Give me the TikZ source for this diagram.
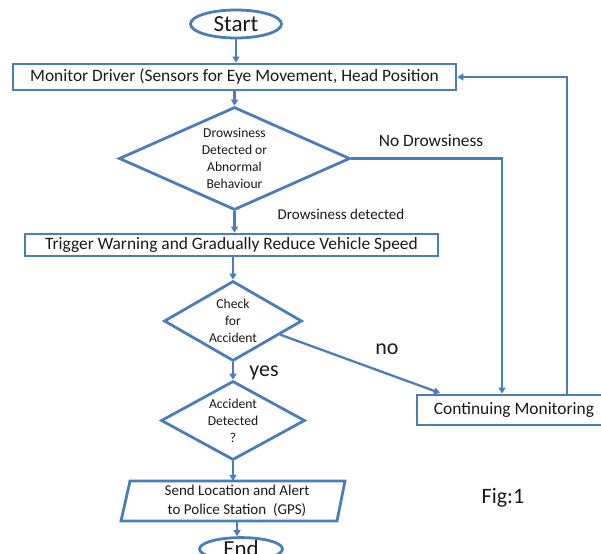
\documentclass[tikz,border=0pt]{standalone}
\usepackage{fontspec}
\setmainfont{Carlito}
\usetikzlibrary{shapes.geometric,arrows.meta,calc}
\definecolor{fc}{HTML}{4A7EBB}
\definecolor{tc}{HTML}{1A1A1A}
\begin{document}
\begin{tikzpicture}[x=1pt,y=-1pt,
  box/.style={draw=fc,line width=2.8pt,rectangle,inner sep=0,text=tc},
  dec/.style={draw=fc,line width=2.8pt,diamond,inner sep=0},
  term/.style={draw=fc,line width=2.8pt,ellipse,inner sep=0,text=tc},
  arr/.style={draw=fc,line width=2.3pt,-{Triangle[length=6pt,width=7pt]}},
  lbl/.style={text=tc,inner sep=0,align=center},
  big/.style={font=\fontsize{17.4}{20}\selectfont},
  small/.style={font=\fontsize{13.6}{17}\selectfont}
]
\useasboundingbox (0,0) rectangle (601,553);
\fill[white] (0,0) rectangle (601,553);

\node[term,minimum width=91,minimum height=28,font=\fontsize{23}{26}\selectfont] (start) at (236,24) {Start};
\node[box,big,minimum width=443,minimum height=26] (mon) at (234.5,77) {Monitor Driver (Sensors for Eye Movement, Head Position};
\node[dec,minimum width=231,minimum height=103] (d1) at (234.5,158.5) {};
\node[lbl,small] (d1t) at (d1) {Drowsiness\\Detected or\\Abnormal\\Behaviour};
\node[box,big,minimum width=413,minimum height=22] (trig) at (231.5,245) {Trigger Warning and Gradually Reduce Vehicle Speed};
\node[dec,minimum width=138,minimum height=80] (d2) at (233,321) {};
\node[lbl,small] (d2t) at (d2) {Check\\for\\Accident};
\node[dec,minimum width=144,minimum height=79] (d3) at (233,420.5) {};
\node[lbl,small] (d3t) at (d3) {Accident\\Detected\\?};
\draw[draw=fc,line width=2.8pt] (130,481) -- (345,481) -- (337,521) -- (121,521) -- cycle;
\node[lbl,inner sep=0,minimum width=200,minimum height=40,font=\fontsize{15}{19}\selectfont] (send) at (237,501) {Send Location and Alert\\to Police Station~ (GPS)};
\node[term,minimum width=83,minimum height=22,font=\fontsize{23}{26}\selectfont] (endn) at (241,549) {End};
\node[box,big,minimum width=194,minimum height=30] (cont) at (514,410) {Continuing Monitoring};

\coordinate (noend) at (440,393);
\coordinate (dropx) at (502,0);
\coordinate (loopx) at (567,0);

\draw[arr] (start.south) -- (start.south |- mon.north);
\draw[arr] (d1.north |- mon.south) -- (d1.north);
\draw[arr] (d1.south) -- (d1.south |- trig.north);
\draw[arr] (d2.north |- trig.south) -- (d2.north);
\draw[arr] (d2.south) -- (d3.north);
\draw[arr] (d3.south) -- (d3.south |- send.north);
\draw[arr] (send.south) -- (send.south |- endn.north);
\draw[arr] (d1.east) -| (dropx |- cont.north);
\draw[arr] (loopx |- cont.north) |- (mon.east);
\draw[arr] ($(d2.east)!0.33!(d2.south)$) -- (noend);

\node[lbl,big] (lnod) at (431,141) {No Drowsiness};
\node[lbl,font=\fontsize{15}{18}\selectfont] (ldd) at (341,214) {Drowsiness detected};
\node[lbl,font=\fontsize{22}{26}\selectfont] (lno) at (387,349) {no};
\node[lbl,font=\fontsize{22}{26}\selectfont] (lyes) at (264,373) {yes};
\node[lbl,font=\fontsize{22}{26}\selectfont] (fig) at (503,498) {Fig:1};
\end{tikzpicture}
\end{document}
